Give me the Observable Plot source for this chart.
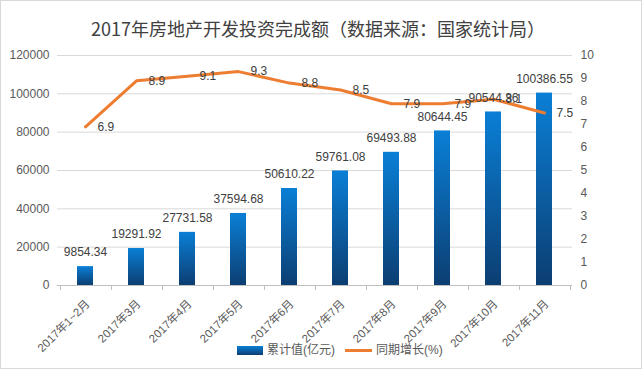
<!DOCTYPE html>
<html><head><meta charset="utf-8">
<script src="https://cdn.jsdelivr.net/npm/d3@7"></script>
<script src="https://cdn.jsdelivr.net/npm/@observablehq/plot@0.6"></script>
<style>
body{margin:0;background:#fff;}
#wrap{position:relative;width:642px;height:369px;overflow:hidden;background:#fff;font-family:"Liberation Sans","Noto Sans CJK SC",sans-serif;}
#chart{position:absolute;left:0;top:0;}
#title{position:absolute;left:0;width:636px;top:16px;line-height:24px;text-align:center;font-size:18px;color:#404040;font-family:"Noto Sans CJK SC",sans-serif;white-space:nowrap;}
.lg{position:absolute;font-size:12px;color:#595959;line-height:16px;white-space:nowrap;font-family:"Liberation Sans","Noto Sans CJK SC",sans-serif;}
#border{position:absolute;left:0;top:0;width:640px;height:367px;border:1px solid #d9d9d9;pointer-events:none;}
</style></head>
<body><div id="wrap"><div id="chart"></div>
<div id="title">2017年房地产开发投资完成额（数据来源：国家统计局）</div>
<div class="lg" style="left:237px;top:346px;width:26px;height:9px;background:linear-gradient(#0a7fd6,#0c3e72);"></div>
<div class="lg" style="left:267px;top:342px;">累计值(亿元)</div>
<div class="lg" style="left:345px;top:349px;width:27px;height:3px;background:#ed7d31;"></div>
<div class="lg" style="left:376px;top:342px;">同期增长(%)</div>
<div id="border"></div>
</div>
<script>
const categories = ["2017年1~2月","2017年3月","2017年4月","2017年5月","2017年6月","2017年7月","2017年8月","2017年9月","2017年10月","2017年11月"];
const cumulative = [9854.34,19291.92,27731.58,37594.68,50610.22,59761.08,69493.88,80644.45,90544.36,100386.55];
const growth = [6.9,8.9,9.1,9.3,8.8,8.5,7.9,7.9,8.1,7.5];
const leftTicks = [0,20000,40000,60000,80000,100000,120000];
const rightTicks = [0,1,2,3,4,5,6,7,8,9,10];
const barMax = 120000, growthMax = 10;
const k = barMax / growthMax;
const rows = categories.map((c, i) => ({c, v: cumulative[i], g: growth[i]}));

function boundaryTicks(...args) {
  const scales = args.find(a => a && typeof a.x === "function" && typeof a.y === "function");
  const x = scales.x, y = scales.y;
  const bw = x.bandwidth ? x.bandwidth() : 0;
  const step = x(categories[1]) - x(categories[0]);
  const y0 = y(0);
  const g = d3.create("svg:g").attr("stroke", "#bfbfbf").attr("stroke-width", 1);
  for (let i = 0; i <= categories.length; i++) {
    const cx = (i < categories.length ? x(categories[i]) + bw / 2 - step / 2 : x(categories[i - 1]) + bw / 2 + step / 2);
    const px = Math.round(cx) + 0.5;
    g.append("line").attr("x1", px).attr("x2", px).attr("y1", y0).attr("y2", y0 + 5);
  }
  return g.node();
}

const plot = Plot.plot({
  width: 642, height: 369,
  marginLeft: 57, marginRight: 70, marginTop: 55, marginBottom: 84,
  style: {fontFamily: '"Liberation Sans","Noto Sans CJK SC",sans-serif', fontSize: "12px", color: "#595959", background: "transparent"},
  x: {domain: categories, paddingInner: 0.69, paddingOuter: 0.345, axis: null},
  y: {domain: [0, barMax], axis: null, label: null},
  marks: [
    Plot.gridY(leftTicks.slice(1), {stroke: "#d9d9d9", strokeOpacity: 1}),
    Plot.axisY(leftTicks, {anchor: "left", tickSize: 0, tickPadding: 8, tickFormat: d3.format("d"), label: null, fill: "#595959"}),
    Plot.axisY(rightTicks.map(t => t * k), {anchor: "right", tickSize: 0, tickPadding: 8, tickFormat: d => String(Math.round(d / k)), label: null, fill: "#595959"}),
    Plot.barY(rows, {x: "c", y: "v", fill: "url(#barGrad)"}),
    Plot.ruleY([0], {stroke: "#bfbfbf"}),
    boundaryTicks,
    Plot.line(rows, {x: "c", y: d => d.g * k, stroke: "#ed7d31", strokeWidth: 3, strokeLinejoin: "round", strokeLinecap: "round"}),
    Plot.text(rows, {x: "c", y: "v", text: d => String(d.v), dy: -14, fill: "#404040"}),
    Plot.text(rows, {x: "c", y: d => d.g * k, text: d => d.g.toFixed(1), dx: 12, textAnchor: "start", fill: "#404040"}),
    Plot.text(categories, {x: d => d, frameAnchor: "bottom", rotate: -45, textAnchor: "end", dx: 5, dy: 19, fontSize: 11.5, fill: "#595959"})
  ]
});
const defs = d3.select(plot).insert("defs", ":first-child");
const lg = defs.append("linearGradient").attr("id", "barGrad").attr("x1", 0).attr("y1", 0).attr("x2", 0).attr("y2", 1);
lg.append("stop").attr("offset", "0%").attr("stop-color", "#0a7fd6");
lg.append("stop").attr("offset", "100%").attr("stop-color", "#0c3e72");
document.getElementById("chart").appendChild(plot);
</script>
</body></html>
